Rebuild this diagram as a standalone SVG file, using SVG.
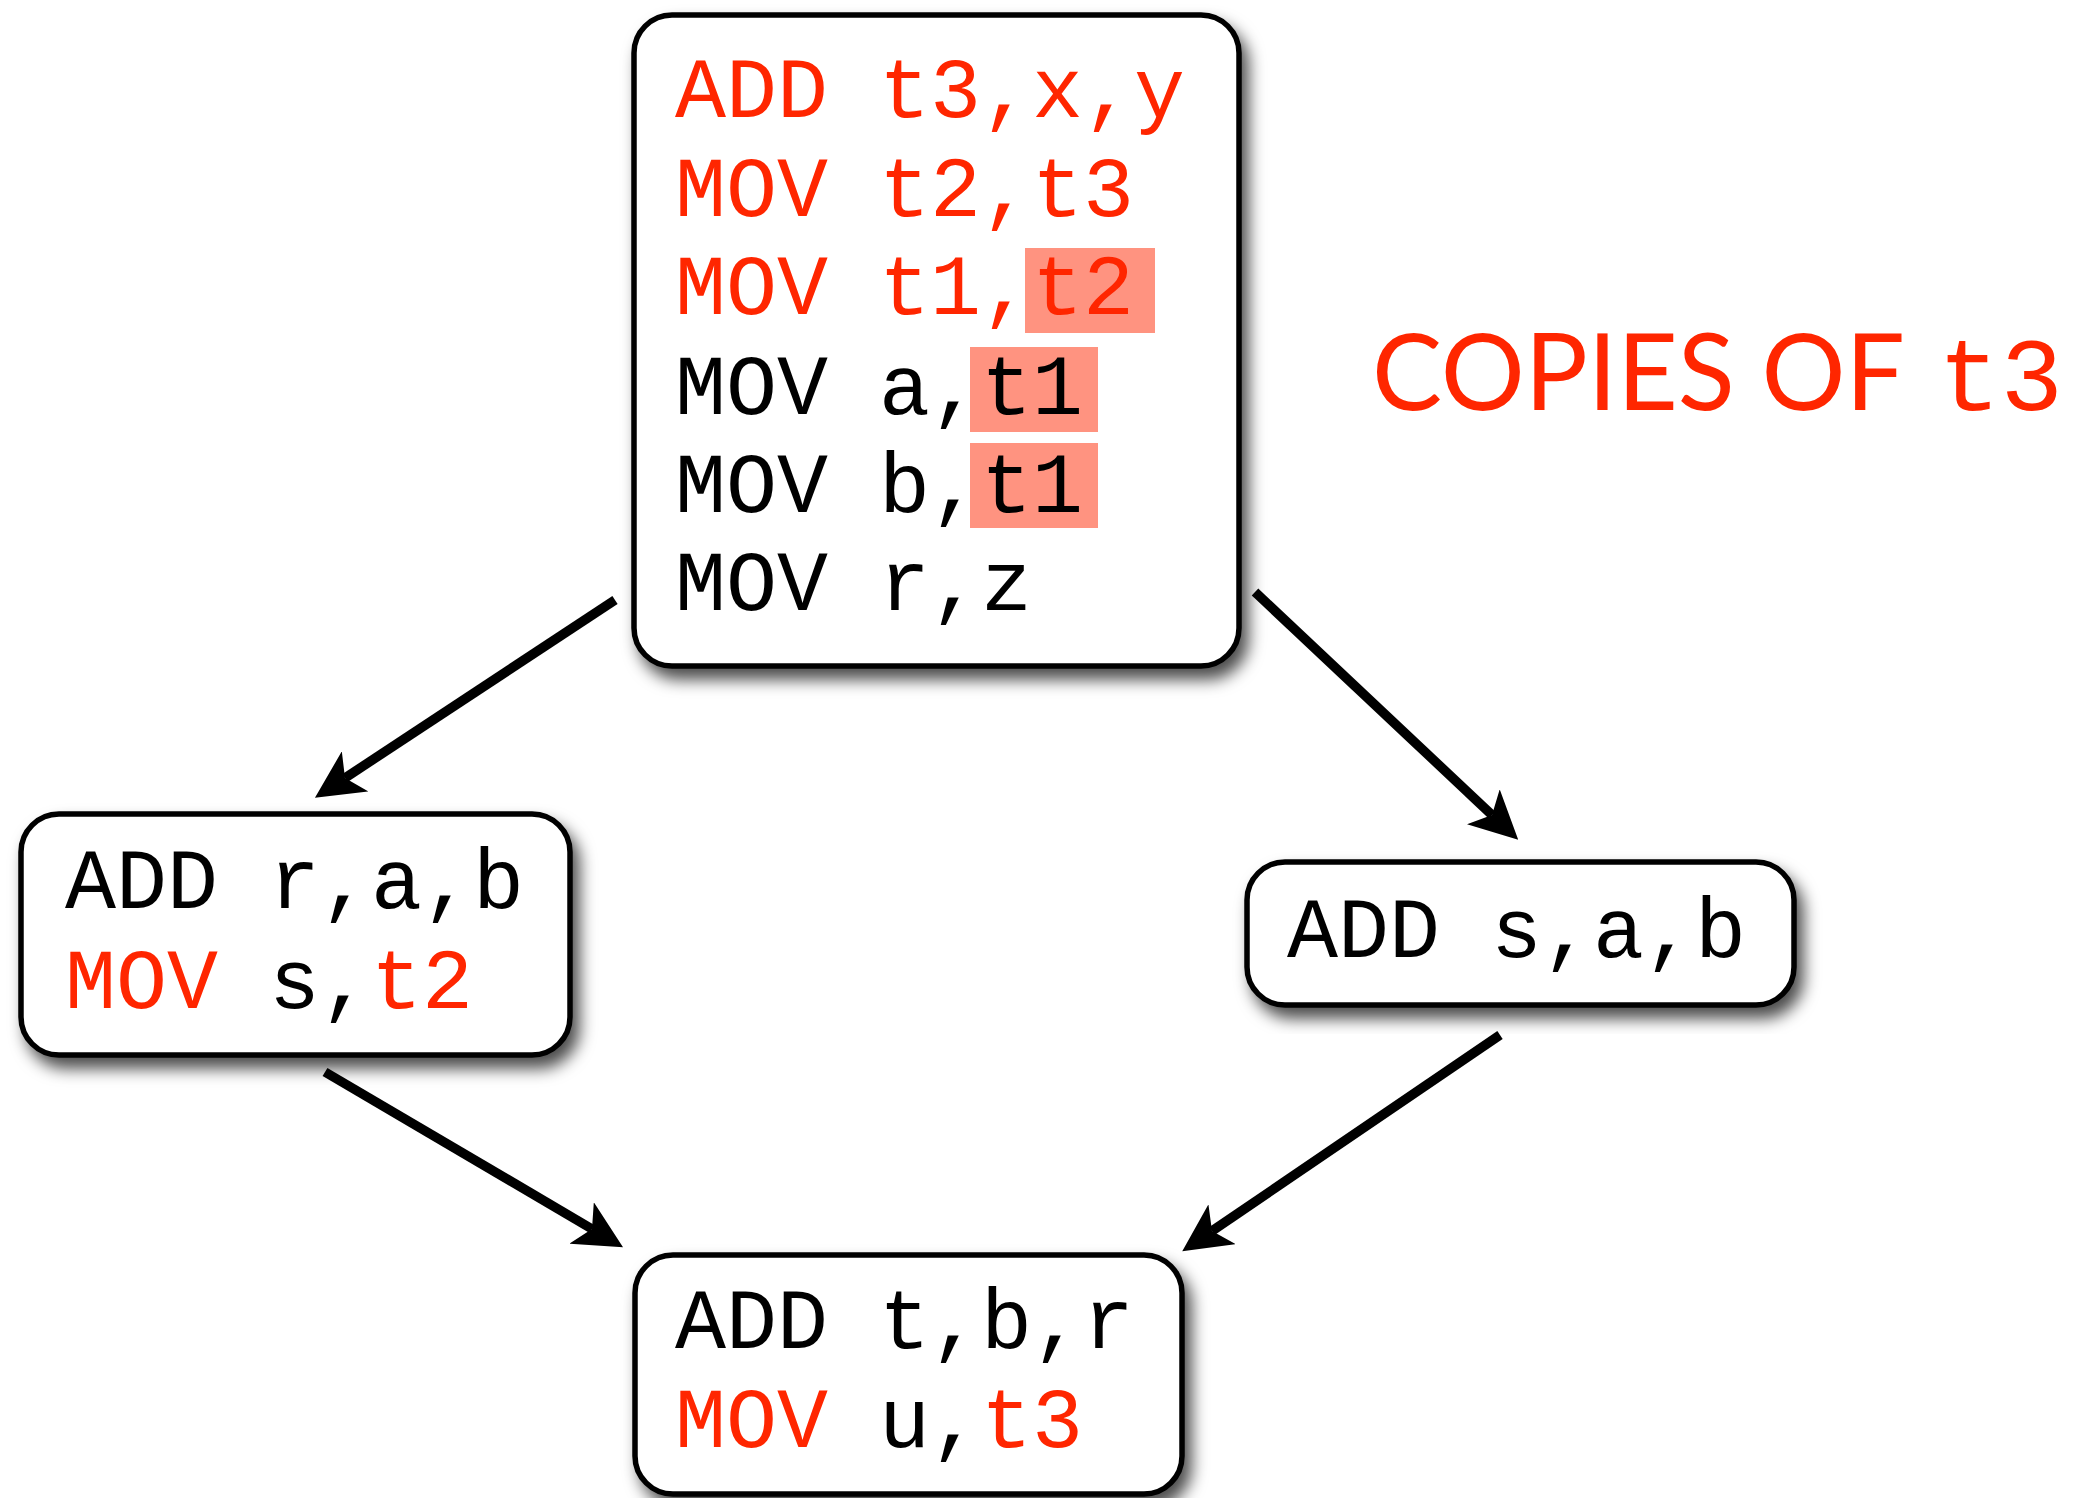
<svg xmlns="http://www.w3.org/2000/svg" width="2092" height="1498" viewBox="0 0 2092 1498">
<style>
.box{fill:#fff;stroke:#000;stroke-width:5.5;filter:url(#sh)}
.code{font-family:"Liberation Mono","Courier New",monospace;font-size:85px;fill:#000}
.r{fill:#FF2600}
.hl{fill:#FF9380}
.conn{stroke:#000;stroke-width:9.5;fill:none;marker-end:url(#ah)}
.title{font-family:Lato,"Open Sans",sans-serif;font-size:107px;fill:#FF2600}
</style>
<defs>
<filter id="sh" x="-10%" y="-10%" width="130%" height="130%">
<feDropShadow dx="7" dy="11" stdDeviation="8" flood-color="#000" flood-opacity="0.7"/>
</filter>
<marker id="ah" markerUnits="userSpaceOnUse" viewBox="0 -24 48 48" refX="12" refY="0" markerWidth="48" markerHeight="48" orient="auto">
<path d="M48,0 L0,-24 L12,0 L0,24 Z" fill="#000"/>
</marker>
</defs>
<rect width="2092" height="1498" fill="#fff"/>
<g id="connectors">
<line class="conn" x1="615" y1="600" x2="345" y2="778"/>
<line class="conn" x1="1255" y1="592" x2="1492" y2="815"/>
<line class="conn" x1="325" y1="1072" x2="592" y2="1229"/>
<line class="conn" x1="1500" y1="1035" x2="1212" y2="1231"/>
</g>
<g id="node-top">
<rect class="box" x="634" y="15" width="605" height="651" rx="38"/>
<rect class="hl" x="1025" y="248" width="130" height="85"/>
<rect class="hl" x="970" y="347" width="128" height="85"/>
<rect class="hl" x="970" y="443" width="128" height="85"/>
<text class="code r" x="675" y="117">ADD t3,x,y</text>
<text class="code r" x="675" y="216">MOV t2,t3</text>
<text class="code r" x="675" y="314">MOV t1,t2</text>
<text class="code" x="675" y="414">MOV a,t1</text>
<text class="code" x="675" y="512">MOV b,t1</text>
<text class="code" x="675" y="610">MOV r,z</text>
</g>
<g id="node-left">
<rect class="box" x="21" y="814" width="549" height="241" rx="38"/>
<text class="code" x="65" y="908">ADD r,a,b</text>
<text class="code" x="65" y="1008"><tspan class="r">MOV</tspan> s,<tspan class="r">t2</tspan></text>
</g>
<g id="node-right">
<rect class="box" x="1247" y="862" width="547" height="143" rx="38"/>
<text class="code" x="1287" y="957">ADD s,a,b</text>
</g>
<g id="node-bottom">
<rect class="box" x="635" y="1255" width="547" height="239" rx="38"/>
<text class="code" x="675" y="1348">ADD t,b,r</text>
<text class="code" x="675" y="1447"><tspan class="r">MOV</tspan> u,<tspan class="r">t3</tspan></text>
</g>
<g id="label">
<text class="title" x="1372" y="410" textLength="533" lengthAdjust="spacingAndGlyphs">COPIES OF</text>
<text class="code r" x="1938" y="410" style="font-size:104px">t3</text>
</g>
</svg>
